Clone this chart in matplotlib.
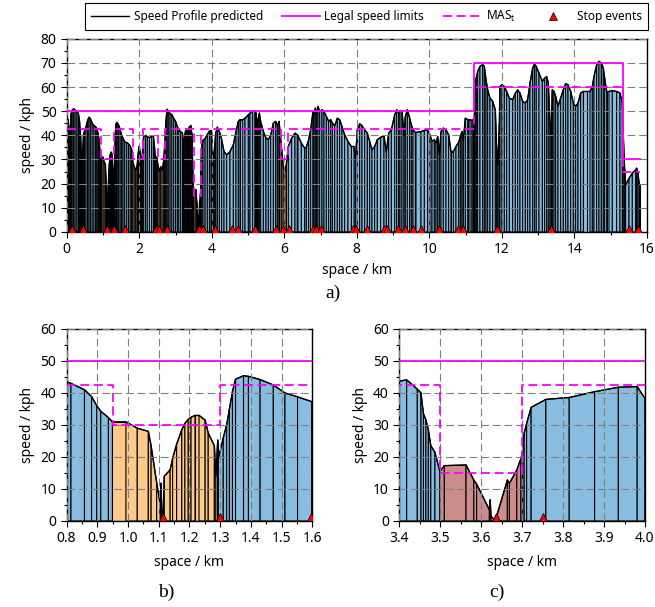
import numpy as np
import matplotlib
matplotlib.use("Agg")
import matplotlib.pyplot as plt
from matplotlib.collections import PolyCollection
from matplotlib.lines import Line2D
from matplotlib.ticker import MultipleLocator, FormatStrFormatter

plt.rcParams['font.family'] = ['Noto Sans', 'DejaVu Sans']
plt.rcParams['font.size'] = 10

# predicted speed profile along the route (km, kph)
dist_km = [
    0.000, 0.020, 0.040, 0.060, 0.080, 0.100, 0.120, 0.150, 0.190, 0.230,
    0.280, 0.320, 0.350, 0.380, 0.400, 0.420, 0.440, 0.460, 0.490, 0.530,
    0.570, 0.610, 0.650, 0.700, 0.750,
    0.800, 0.814, 0.858, 0.881, 0.898, 0.911, 0.936, 0.949, 0.993, 1.030,
    1.066, 1.075, 1.093, 1.104, 1.107, 1.109, 1.113, 1.118, 1.137, 1.145,
    1.158, 1.175, 1.185, 1.196, 1.205, 1.218, 1.231, 1.251, 1.261, 1.281,
    1.286, 1.292, 1.294, 1.310, 1.321, 1.330, 1.340, 1.350, 1.376, 1.392,
    1.430, 1.473, 1.511, 1.552, 1.598,
    1.650, 1.700, 1.750, 1.790, 1.820, 1.860, 1.900, 1.940, 1.960, 1.980,
    2.000, 2.020, 2.050, 2.080, 2.100, 2.120, 2.170, 2.220, 2.280, 2.340,
    2.390, 2.420, 2.450, 2.480, 2.510, 2.550, 2.590, 2.630, 2.670, 2.700,
    2.730, 2.765, 2.800, 2.850, 2.900, 2.950, 3.000, 3.050, 3.090, 3.140,
    3.190, 3.220, 3.240, 3.270, 3.300, 3.330, 3.360, 3.380,
    3.400, 3.418, 3.444, 3.453, 3.459, 3.465, 3.471, 3.477, 3.487, 3.499,
    3.510, 3.563, 3.582, 3.589, 3.620, 3.622, 3.624, 3.632, 3.640, 3.664,
    3.669, 3.687, 3.697, 3.701, 3.705, 3.711, 3.722, 3.758, 3.815, 3.877,
    3.935, 3.981, 4.000,
    4.020, 4.050, 4.080, 4.110, 4.153, 4.208, 4.272, 4.337, 4.410, 4.502,
    4.594, 4.668, 4.732, 4.778, 4.852, 4.916, 5.008, 5.054, 5.127, 5.192,
    5.220, 5.240, 5.256, 5.280, 5.311, 5.348, 5.422, 5.495, 5.560, 5.624,
    5.698, 5.762, 5.808, 5.854, 5.882, 5.928, 5.970, 6.020, 6.060, 6.111,
    6.203, 6.295, 6.360,
    6.378, 6.470, 6.562, 6.608, 6.672, 6.727, 6.792, 6.819, 6.856, 6.893,
    6.930, 6.976, 7.040, 7.095, 7.160, 7.224, 7.279, 7.325, 7.390, 7.463,
    7.527, 7.592, 7.665, 7.757, 7.849, 7.923, 7.960, 8.015, 8.079, 8.143,
    8.217, 8.290, 8.355, 8.419, 8.493, 8.566, 8.658, 8.750, 8.815, 8.879,
    8.953, 9.045, 9.100, 9.155, 9.192, 9.247, 9.302, 9.339, 9.394, 9.458,
    9.504, 9.550, 9.615,
    9.633, 9.771, 9.863, 9.955, 10.019, 10.074, 10.139, 10.185, 10.231, 10.277,
    10.323, 10.387, 10.461, 10.534, 10.598, 10.663, 10.736, 10.810, 10.856, 10.902,
    10.939, 10.994, 11.058, 11.123, 11.178, 11.214, 11.242, 11.270, 11.306, 11.334,
    11.398, 11.472, 11.518, 11.564, 11.610, 11.674, 11.748, 11.821, 11.858, 11.895,
    11.932, 11.950, 12.005, 12.070, 12.134, 12.208, 12.300, 12.373, 12.437, 12.502,
    12.575, 12.649, 12.713, 12.778, 12.851, 12.900, 12.950,
    13.026, 13.118, 13.182, 13.237, 13.283, 13.330, 13.366, 13.394, 13.440, 13.486,
    13.550, 13.624, 13.697, 13.762, 13.826, 13.900, 13.973, 14.037, 14.102, 14.175,
    14.249, 14.341, 14.433, 14.497, 14.543, 14.617, 14.681, 14.745, 14.800, 14.837,
    14.892, 14.957, 15.049, 15.168, 15.260, 15.325, 15.352, 15.389, 15.417, 15.509,
    15.600, 15.692, 15.720, 15.757, 15.794, 15.812,
]
speed_kph = [
    40.0, 44.0, 46.5, 40.0, 36.0, 44.0, 49.0, 50.5, 51.0, 50.5,
    50.0, 49.0, 46.0, 40.0, 32.0, 28.0, 33.0, 40.0, 42.0, 43.5,
    46.0, 47.5, 47.0, 45.0, 44.0,
    43.5, 43.0, 41.0, 38.9, 36.0, 34.3, 32.3, 31.0, 31.0, 29.0,
    28.0, 23.5, 12.0, 5.5, 11.8, 3.0, 0.5, 14.0, 16.0, 19.5,
    24.0, 28.5, 30.5, 31.8, 32.4, 33.0, 33.0, 31.5, 27.5, 23.5,
    14.0, 25.3, 19.5, 26.0, 30.0, 35.0, 40.5, 44.3, 45.4, 45.2,
    44.2, 42.5, 40.0, 38.8, 37.3,
    37.0, 36.5, 35.5, 34.0, 29.0, 27.0, 25.5, 27.5, 31.0, 34.0,
    35.5, 33.0, 29.5, 31.0, 37.0, 39.5, 40.0, 39.5, 39.0, 39.8,
    39.5, 35.0, 29.0, 31.0, 28.0, 25.0, 27.0, 25.5, 29.0, 36.0,
    45.0, 50.8, 50.2, 49.0, 48.5, 47.0, 45.8, 43.5, 42.3, 41.5,
    41.0, 36.0, 38.0, 41.5, 42.3, 42.0, 42.5, 43.5,
    43.7, 44.1, 41.2, 40.0, 33.5, 31.6, 28.5, 23.5, 21.5, 15.5,
    17.3, 17.5, 12.8, 11.5, 3.5, 6.6, 1.5, 0.3, 2.5, 12.8,
    11.8, 15.9, 19.5, 21.5, 27.5, 30.5, 35.5, 38.0, 38.6, 40.4,
    41.8, 42.0, 38.3,
    33.0, 30.0, 36.0, 41.0, 43.4, 41.6, 38.2, 33.3, 31.9, 33.3,
    36.1, 41.6, 45.8, 46.5, 46.5, 47.1, 48.5, 49.2, 49.9, 50.2,
    49.2, 45.0, 43.0, 47.0, 49.2, 45.8, 41.6, 38.9, 38.2, 40.2,
    45.1, 45.8, 44.0, 45.8, 41.6, 34.0, 27.1, 25.0, 28.5, 35.4,
    38.9, 40.9, 40.2,
    39.8, 36.8, 34.7, 35.1, 38.2, 42.3, 49.9, 48.5, 51.3, 49.2,
    52.0, 49.9, 50.6, 49.9, 47.8, 45.8, 46.5, 45.1, 44.0, 47.1,
    46.5, 43.7, 40.2, 37.5, 35.4, 35.4, 30.0, 42.3, 44.8, 44.0,
    42.3, 40.9, 37.5, 34.0, 35.4, 38.2, 39.2, 39.8, 33.0, 40.9,
    42.3, 48.5, 50.6, 49.2, 50.3, 50.2, 40.0, 47.8, 50.6, 47.1,
    44.4, 42.3, 41.2,
    41.2, 41.6, 42.0, 42.3, 40.2, 37.5, 38.2, 36.8, 39.5, 32.0,
    41.6, 43.0, 42.3, 40.2, 33.3, 33.3, 35.4, 37.1, 39.5, 41.6,
    38.0, 47.1, 46.5, 46.5, 46.2, 46.5, 47.0, 63.0, 64.4, 66.5,
    68.6, 69.3, 68.6, 63.0, 58.9, 55.4, 54.1, 50.6, 35.0, 28.0,
    45.0, 60.3, 61.0, 60.3, 58.2, 55.4, 54.8, 57.5, 58.9, 57.5,
    54.1, 53.4, 54.8, 61.7, 67.9, 69.5, 68.6,
    65.8, 62.4, 63.7, 64.4, 61.7, 45.0, 40.0, 58.9, 58.2, 56.1,
    52.0, 55.4, 58.9, 61.4, 61.0, 58.2, 53.4, 52.0, 53.4, 57.5,
    58.2, 58.2, 58.2, 60.3, 64.4, 69.3, 70.7, 70.0, 67.9, 63.7,
    58.2, 58.2, 58.5, 58.2, 57.5, 53.4, 40.0, 25.7, 19.5, 22.2,
    24.3, 25.7, 26.4, 24.3, 19.5, 19.5,
]

# stop events (km)
stop_km = [0.13, 0.45, 1.115, 1.30, 1.595, 2.45, 2.55, 2.76, 3.635, 3.75,
           4.09, 4.55, 4.71, 5.19, 5.76, 5.96, 6.12, 6.78, 6.87, 7.00,
           7.90, 7.98, 8.28, 8.74, 8.83, 9.14, 9.34, 9.55, 9.76, 10.28,
           10.80, 10.94, 11.87, 13.36, 15.52, 15.77]

# legal speed limits and MAS_t as step functions (start of each section)
limit_km = [0.0, 11.24, 15.35, 15.81]
limit_kph = [50, 70, 30, 30]
mas_km = [0.0, 0.95, 1.30, 1.82, 2.11, 2.51, 2.71, 3.50, 3.70, 5.90, 6.10, 11.24, 15.35, 15.81]
mas_kph = [42.5, 30, 42.5, 30, 42.5, 30, 42.5, 15, 42.5, 30, 42.5, 60, 25, 25]

c_blue = '#89bde0'
c_orange = '#fdca8b'
c_red = '#cd8c8c'
magenta = '#ff00ff'

x = np.array(dist_km)
v = np.array(speed_kph)

# colour each section by the MAS zone it sits in
mid = (x[:-1] + x[1:]) / 2
idx = np.searchsorted(mas_km, mid, side='right') - 1
seg_mas = np.array(mas_kph)[idx]
seg_col = []
for m in seg_mas:
    if m == 30:
        seg_col.append(c_orange)
    elif m == 15:
        seg_col.append(c_red)
    else:
        seg_col.append(c_blue)
polys = [[(x[i], 0), (x[i], v[i]), (x[i + 1], v[i + 1]), (x[i + 1], 0)] for i in range(len(x) - 1)]


def draw_panel(ax, xlim, ylim, xmaj, xmin, ymaj, ymin, fmt, edge_lw):
    pc = PolyCollection(polys, facecolors=seg_col, edgecolors='black', linewidths=edge_lw, zorder=1)
    ax.add_collection(pc)
    ax.plot(x, v, color='black', lw=1.0, zorder=2)
    ax.step(limit_km, limit_kph, where='post', color=magenta, lw=1.3, zorder=3)
    ax.step(mas_km, mas_kph, where='post', color=magenta, lw=1.3, dashes=(5, 2.5), zorder=3)
    ax.plot(stop_km, np.ones(len(stop_km)) * 1.1, ls='none', marker='^', ms=5.5,
            mfc='red', mec='black', mew=0.5, zorder=4)
    ax.set_xlim(*xlim)
    ax.set_ylim(*ylim)
    ax.xaxis.set_major_locator(MultipleLocator(xmaj))
    ax.xaxis.set_minor_locator(MultipleLocator(xmin))
    ax.yaxis.set_major_locator(MultipleLocator(ymaj))
    ax.yaxis.set_minor_locator(MultipleLocator(ymin))
    if fmt:
        ax.xaxis.set_major_formatter(FormatStrFormatter(fmt))
    ax.set_axisbelow(False)
    ax.grid(True, which='major', color='#7f7f7f', lw=0.8, ls=(0, (7, 3.5)))
    ax.tick_params(which='major', direction='out', length=4, width=0.8, labelsize=10)
    ax.tick_params(which='minor', direction='out', length=2.5, width=0.8)
    for s in ax.spines.values():
        s.set_linewidth(1.0)
    ax.set_xlabel('space / km', fontsize=10)
    ax.set_ylabel('speed / kph', fontsize=10)


fig = plt.figure(figsize=(6.55, 6.07), dpi=100)
ax_a = fig.add_axes([0.102, 0.618, 0.8855, 0.318])
ax_b = fig.add_axes([0.1018, 0.1417, 0.375, 0.3163])
ax_c = fig.add_axes([0.6096, 0.1417, 0.3751, 0.3163])

draw_panel(ax_a, (0, 16), (0, 80), 2, 1, 10, 5, None, 0.75)
draw_panel(ax_b, (0.8, 1.6), (0, 60), 0.1, 0.05, 10, 5, '%.1f', 0.8)
draw_panel(ax_c, (3.4, 4.0), (0, 60), 0.1, 0.05, 10, 5, '%.1f', 0.8)
ax_b.xaxis.labelpad = 6
ax_c.xaxis.labelpad = 6

handles = [
    Line2D([], [], color='black', lw=1.0),
    Line2D([], [], color=magenta, lw=1.3),
    Line2D([], [], color=magenta, lw=1.3, dashes=(5, 2.5)),
    Line2D([], [], ls='none', marker='^', ms=5.5, mfc='red', mec='black', mew=0.5),
]
labels = ['Speed Profile predicted', 'Legal speed limits', 'MAS$_\\mathregular{t}$', 'Stop events']
leg = fig.legend(handles, labels, ncol=4, loc='upper center', bbox_to_anchor=(0.5595, 0.995),
                 borderaxespad=0, frameon=True, fancybox=False, edgecolor='black', framealpha=1,
                 fontsize=8.5, handlelength=3.2, handletextpad=0.4, columnspacing=1.6, borderpad=0.5)
leg.get_frame().set_linewidth(0.8)

serif = ['Liberation Serif', 'DejaVu Serif']
fig.text(333 / 655, 1 - 293 / 607, 'a)', family=serif, fontsize=14, ha='center', va='center')
fig.text(166 / 655, 1 - 592 / 607, 'b)', family=serif, fontsize=14, ha='center', va='center')
fig.text(497 / 655, 1 - 592 / 607, 'c)', family=serif, fontsize=14, ha='center', va='center')

fig.savefig('out.png', dpi=100)
